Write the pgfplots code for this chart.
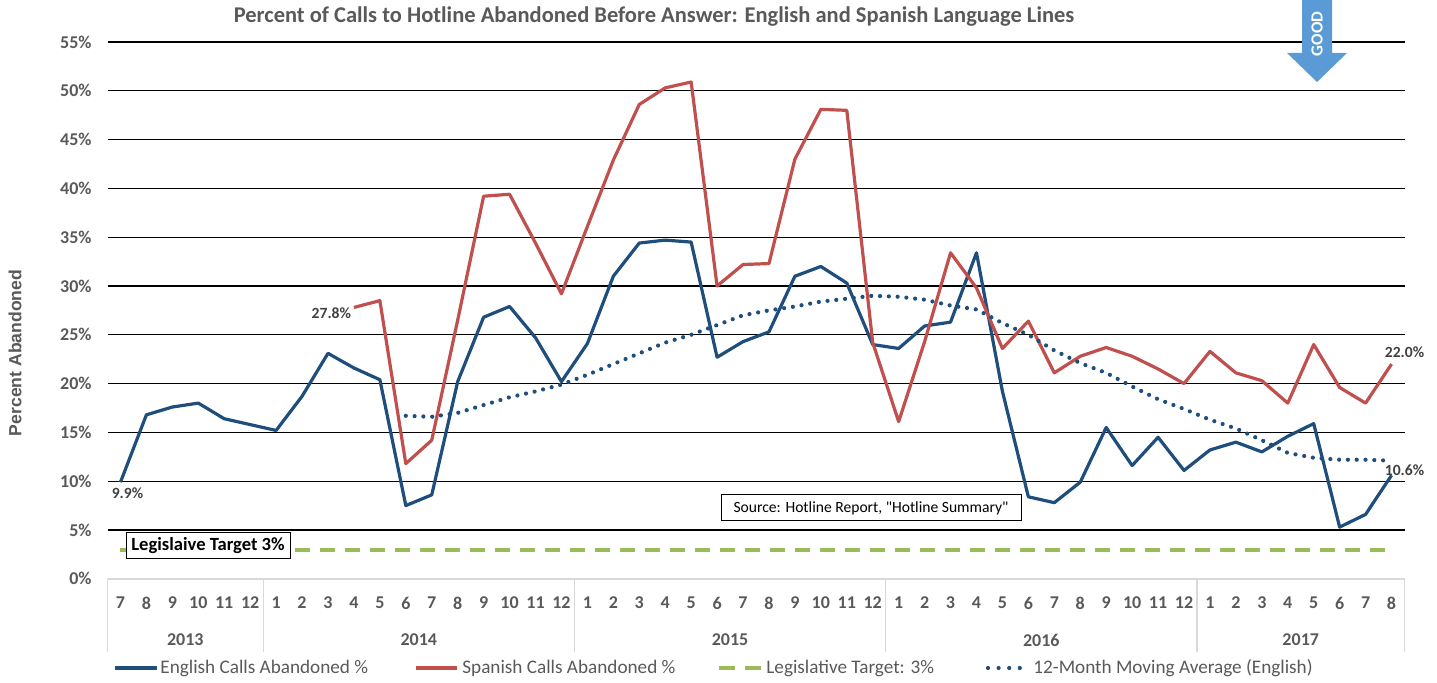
\documentclass[border=0pt]{standalone}
\usepackage{fontspec}
\setmainfont{Carlito}
\newfontfamily\srcfont{Carlito}
\newfontfamily\arialfont{Liberation Sans}
\usepackage{pgfplots}
\pgfplotsset{compat=1.18}
\definecolor{engblue}{HTML}{1F4E7D}
\definecolor{spared}{HTML}{C0504D}
\definecolor{tgreen}{HTML}{9BBB59}
\definecolor{arrowblue}{HTML}{5B9BD5}
\definecolor{txtgray}{HTML}{595959}
\definecolor{sepgray}{HTML}{D9D9D9}
\definecolor{lblgray}{HTML}{404040}
\begin{document}
\begin{tikzpicture}
\path[use as bounding box] (0pt,0pt) rectangle (718.5pt,-341.5pt);
\begin{axis}[
  at={(53.75pt,-289.4pt)}, anchor=south west,
  scale only axis, width=648.5pt, height=268.4pt,
  xmin=-0.5, xmax=49.5, ymin=0, ymax=55,
  clip=false,
  axis line style={draw=none},
  major tick length=0pt,
  ytick={0,5,...,55},
  yticklabels={0\%,5\%,10\%,15\%,20\%,25\%,30\%,35\%,40\%,45\%,50\%,55\%},
  ymajorgrids, grid style={black, line width=0.6pt},
  xtick={0,...,49},
  xticklabels={7,8,9,10,11,12,1,2,3,4,5,6,7,8,9,10,11,12,1,2,3,4,5,6,7,8,9,10,11,12,1,2,3,4,5,6,7,8,9,10,11,12,1,2,3,4,5,6,7,8},
  xticklabel style={anchor=center, yshift=-12.1pt, font=\bfseries\fontsize{9}{10}\selectfont, text=txtgray},
  yticklabel style={anchor=east, inner sep=0pt, xshift=-7.75pt, font=\bfseries\fontsize{9}{10}\selectfont, text=txtgray},
]
% English
\addplot[engblue, line width=1.6pt, line join=round] coordinates {
(0,9.9) (1,16.8) (2,17.6) (3,18.0) (4,16.4) (5,15.8) (6,15.2) (7,18.7) (8,23.1) (9,21.6)
(10,20.4) (11,7.5) (12,8.6) (13,20.2) (14,26.8) (15,27.9) (16,24.7) (17,20.2) (18,24.1) (19,31.0)
(20,34.4) (21,34.7) (22,34.5) (23,22.7) (24,24.3) (25,25.3) (26,31.0) (27,32.0) (28,30.3) (29,24.0)
(30,23.6) (31,25.9) (32,26.3) (33,33.4) (34,19.2) (35,8.4) (36,7.8) (37,9.9) (38,15.5) (39,11.6)
(40,14.5) (41,11.1) (42,13.2) (43,14.0) (44,13.0) (45,14.6) (46,15.9) (47,5.3) (48,6.6) (49,10.6)
};
% Spanish
\addplot[spared, line width=1.6pt, line join=round] coordinates {
(9,27.8) (10,28.5) (11,11.8) (12,14.2) (13,26.5) (14,39.2) (15,39.4) (16,34.4) (17,29.2) (18,36.1) (19,42.9)
(20,48.6) (21,50.3) (22,50.9) (23,30.0) (24,32.2) (25,32.3) (26,43.0) (27,48.1) (28,48.0) (29,24.2)
(30,16.1) (31,24.3) (32,33.4) (33,29.8) (34,23.6) (35,26.4) (36,21.1) (37,22.8) (38,23.7) (39,22.8)
(40,21.5) (41,20.0) (42,23.3) (43,21.1) (44,20.3) (45,18.0) (46,24.0) (47,19.6) (48,18.0) (49,22.0)
};
% Target
\addplot[tgreen, line width=2pt, dash pattern=on 7.5pt off 5pt] coordinates {(0,3) (49,3)};
% Moving average
\addplot[engblue, line width=2.1pt, line cap=round, dash pattern=on 0pt off 4.4pt] coordinates {
(11,16.7) (12,16.6) (13,17.0) (14,17.8) (15,18.6) (16,19.2) (17,19.9) (18,20.9) (19,22.0)
(20,23.1) (21,24.2) (22,25.0) (23,26.0) (24,27.0) (25,27.5) (26,27.9) (27,28.4) (28,28.7) (29,29.0)
(30,28.9) (31,28.6) (32,28.0) (33,27.6) (34,26.2) (35,25.0) (36,23.4) (37,22.1) (38,21.1) (39,19.7)
(40,18.4) (41,17.4) (42,16.3) (43,15.4) (44,14.2) (45,12.9) (46,12.4) (47,12.2) (48,12.2) (49,12.1)
};
% axis base line and category separators
\draw[sepgray, line width=0.8pt] (axis cs:-0.5,0) -- (axis cs:49.5,0);
\pgfplotsinvokeforeach{-0.5,5.5,17.5,29.5,41.5,49.5}{
  \draw[sepgray, line width=0.6pt] (axis cs:#1,0) -- (axis cs:#1,-7.5);
}
% year labels
\begin{scope}[every node/.style={font=\bfseries\fontsize{9}{10}\selectfont, text=txtgray}]
\node at (axis cs:2.5,-6.27) {2013};
\node at (axis cs:11.5,-6.27) {2014};
\node at (axis cs:23.5,-6.27) {2015};
\node at (axis cs:35.5,-6.27) {2016};
\node at (axis cs:45.5,-6.27) {2017};
\end{scope}
% data labels
\begin{scope}[every node/.style={font=\bfseries\fontsize{7.8}{9}\selectfont, text=lblgray}]
\node at (axis cs:0.27,8.8) {9.9\%};
\node at (axis cs:8.13,27.2) {27.8\%};
\node at (axis cs:49.5,23.2) {22.0\%};
\node at (axis cs:49.5,11.15) {10.6\%};
\end{scope}
\end{axis}
\begin{scope}[x=0.5pt,y=-0.5pt]
\node[font=\bfseries\fontsize{11.25}{13}\selectfont, text=txtgray] at (654,17) {Percent of Calls to Hotline Abandoned Before Answer: English and Spanish Language Lines};
\node[rotate=90, font=\arialfont\bfseries\fontsize{8.8}{10}\selectfont, text=txtgray] at (15,353) {Percent Abandoned};
\node[draw=black, fill=white, line width=0.5pt, minimum width=82pt, minimum height=13pt, inner sep=0pt, font=\bfseries\fontsize{9.3}{10}\selectfont] at (208,546) {Legislaive Target 3\%};
\node[draw=black, fill=white, line width=0.5pt, minimum width=150pt, minimum height=13pt, inner sep=0pt, font=\srcfont\fontsize{7.8}{9}\selectfont, text=black] at (871,508) {Source: Hotline Report, "Hotline Summary"};
% legend
\begin{scope}[every node/.style={anchor=west, inner sep=0pt, font=\fontsize{9.6}{10}\selectfont, text=txtgray}]
\draw[engblue, line width=1.6pt] (115,668) -- (157,668);
\node at (160,668) {English Calls Abandoned \%};
\draw[spared, line width=1.6pt] (416,668) -- (457,668);
\node at (462,668) {Spanish Calls Abandoned \%};
\draw[tgreen, line width=2pt, dash pattern=on 8pt off 5pt] (719,668) -- (761,668);
\node at (766,668) {Legislative Target: 3\%};
\draw[engblue, line width=2.1pt, line cap=round, dash pattern=on 0pt off 5.3pt] (988,668) -- (1030,668);
\node at (1033,668) {12-Month Moving Average (English)};
\end{scope}
% GOOD arrow
\fill[arrowblue] (1302,0) -- (1332,0) -- (1332,53) -- (1347,53) -- (1317,82) -- (1287,53) -- (1302,53) -- cycle;
\node[rotate=90, text=white, font=\bfseries\fontsize{8.5}{9}\selectfont] at (1317,34) {GOOD};
\end{scope}
\end{tikzpicture}
\end{document}
